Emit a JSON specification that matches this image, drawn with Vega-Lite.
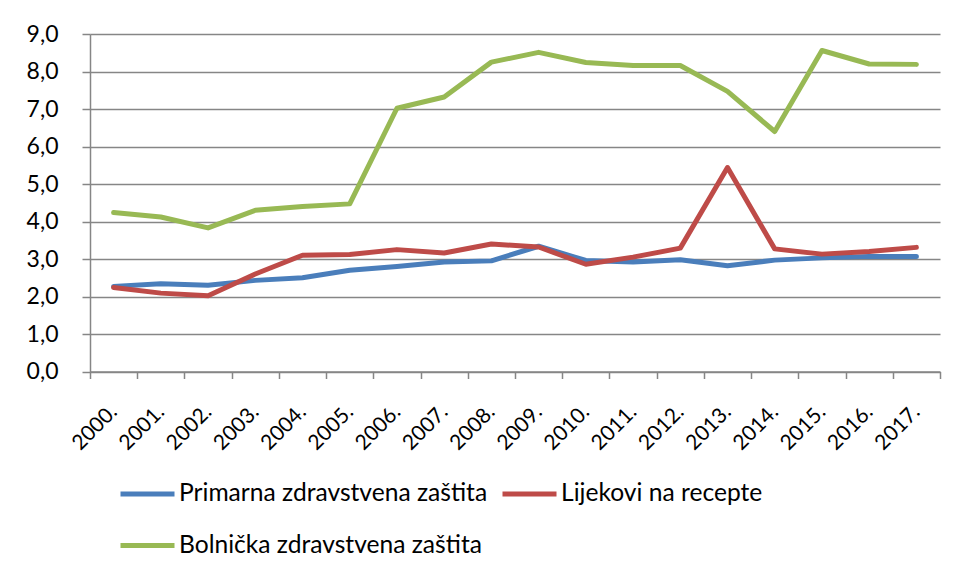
{
  "$schema": "https://vega.github.io/schema/vega-lite/v6.json",
  "width": 850,
  "height": 337.5,
  "autosize": {"type": "none"},
  "padding": {"left": 90, "top": 34, "right": 17, "bottom": 205},
  "background": "white",
  "config": {
    "view": {"stroke": null},
    "font": "Lato"
  },
  "data": {
    "values": [
      {"year": "2000.", "series": "Primarna zdravstvena zaštita", "value": 2.27},
      {"year": "2001.", "series": "Primarna zdravstvena zaštita", "value": 2.34},
      {"year": "2002.", "series": "Primarna zdravstvena zaštita", "value": 2.3},
      {"year": "2003.", "series": "Primarna zdravstvena zaštita", "value": 2.43},
      {"year": "2004.", "series": "Primarna zdravstvena zaštita", "value": 2.5},
      {"year": "2005.", "series": "Primarna zdravstvena zaštita", "value": 2.7},
      {"year": "2006.", "series": "Primarna zdravstvena zaštita", "value": 2.8},
      {"year": "2007.", "series": "Primarna zdravstvena zaštita", "value": 2.92},
      {"year": "2008.", "series": "Primarna zdravstvena zaštita", "value": 2.95},
      {"year": "2009.", "series": "Primarna zdravstvena zaštita", "value": 3.34},
      {"year": "2010.", "series": "Primarna zdravstvena zaštita", "value": 2.96},
      {"year": "2011.", "series": "Primarna zdravstvena zaštita", "value": 2.92},
      {"year": "2012.", "series": "Primarna zdravstvena zaštita", "value": 2.98},
      {"year": "2013.", "series": "Primarna zdravstvena zaštita", "value": 2.82},
      {"year": "2014.", "series": "Primarna zdravstvena zaštita", "value": 2.97},
      {"year": "2015.", "series": "Primarna zdravstvena zaštita", "value": 3.03},
      {"year": "2016.", "series": "Primarna zdravstvena zaštita", "value": 3.07},
      {"year": "2017.", "series": "Primarna zdravstvena zaštita", "value": 3.07},
      {"year": "2000.", "series": "Lijekovi na recepte", "value": 2.24},
      {"year": "2001.", "series": "Lijekovi na recepte", "value": 2.09},
      {"year": "2002.", "series": "Lijekovi na recepte", "value": 2.02},
      {"year": "2003.", "series": "Lijekovi na recepte", "value": 2.6},
      {"year": "2004.", "series": "Lijekovi na recepte", "value": 3.1},
      {"year": "2005.", "series": "Lijekovi na recepte", "value": 3.12},
      {"year": "2006.", "series": "Lijekovi na recepte", "value": 3.25},
      {"year": "2007.", "series": "Lijekovi na recepte", "value": 3.16},
      {"year": "2008.", "series": "Lijekovi na recepte", "value": 3.4},
      {"year": "2009.", "series": "Lijekovi na recepte", "value": 3.32},
      {"year": "2010.", "series": "Lijekovi na recepte", "value": 2.86},
      {"year": "2011.", "series": "Lijekovi na recepte", "value": 3.05},
      {"year": "2012.", "series": "Lijekovi na recepte", "value": 3.29},
      {"year": "2013.", "series": "Lijekovi na recepte", "value": 5.44},
      {"year": "2014.", "series": "Lijekovi na recepte", "value": 3.27},
      {"year": "2015.", "series": "Lijekovi na recepte", "value": 3.13},
      {"year": "2016.", "series": "Lijekovi na recepte", "value": 3.2},
      {"year": "2017.", "series": "Lijekovi na recepte", "value": 3.31},
      {"year": "2000.", "series": "Bolnička zdravstvena zaštita", "value": 4.24},
      {"year": "2001.", "series": "Bolnička zdravstvena zaštita", "value": 4.12},
      {"year": "2002.", "series": "Bolnička zdravstvena zaštita", "value": 3.83},
      {"year": "2003.", "series": "Bolnička zdravstvena zaštita", "value": 4.3},
      {"year": "2004.", "series": "Bolnička zdravstvena zaštita", "value": 4.4},
      {"year": "2005.", "series": "Bolnička zdravstvena zaštita", "value": 4.47},
      {"year": "2006.", "series": "Bolnička zdravstvena zaštita", "value": 7.02},
      {"year": "2007.", "series": "Bolnička zdravstvena zaštita", "value": 7.32},
      {"year": "2008.", "series": "Bolnička zdravstvena zaštita", "value": 8.25},
      {"year": "2009.", "series": "Bolnička zdravstvena zaštita", "value": 8.51},
      {"year": "2010.", "series": "Bolnička zdravstvena zaštita", "value": 8.24},
      {"year": "2011.", "series": "Bolnička zdravstvena zaštita", "value": 8.16},
      {"year": "2012.", "series": "Bolnička zdravstvena zaštita", "value": 8.16},
      {"year": "2013.", "series": "Bolnička zdravstvena zaštita", "value": 7.47},
      {"year": "2014.", "series": "Bolnička zdravstvena zaštita", "value": 6.4},
      {"year": "2015.", "series": "Bolnička zdravstvena zaštita", "value": 8.56},
      {"year": "2016.", "series": "Bolnička zdravstvena zaštita", "value": 8.2},
      {"year": "2017.", "series": "Bolnička zdravstvena zaštita", "value": 8.19}
    ]
  },
  "mark": {"type": "line", "strokeWidth": 5, "strokeJoin": "round", "strokeCap": "round"},
  "encoding": {
    "x": {
      "field": "year",
      "type": "ordinal",
      "sort": null,
      "scale": {"type": "band", "paddingInner": 0, "paddingOuter": 0},
      "axis": {
        "title": null,
        "labelAngle": -45,
        "labelAlign": "right",
        "labelBaseline": "middle",
        "labelFontSize": 21,
        "labelColor": "black",
        "labelPadding": 30,
        "tickBand": "extent",
        "tickSize": 7,
        "tickColor": "#868686",
        "tickWidth": 1.5,
        "domainColor": "#868686",
        "domainWidth": 1.5,
        "grid": false
      }
    },
    "y": {
      "field": "value",
      "type": "quantitative",
      "scale": {"domain": [0, 9], "nice": false},
      "axis": {
        "title": null,
        "values": [0, 1, 2, 3, 4, 5, 6, 7, 8, 9],
        "labelExpr": "replace(format(datum.value, '.1f'), '.', ',')",
        "labelFontSize": 23,
        "labelColor": "black",
        "labelPadding": 24,
        "tickSize": 8,
        "tickColor": "#868686",
        "tickWidth": 1.5,
        "domainColor": "#868686",
        "domainWidth": 1.5,
        "grid": true,
        "gridColor": "#868686",
        "gridWidth": 1.5
      }
    },
    "color": {
      "field": "series",
      "type": "nominal",
      "scale": {
        "domain": ["Primarna zdravstvena zaštita", "Lijekovi na recepte", "Bolnička zdravstvena zaštita"],
        "range": ["#4A7EBB", "#BE4B48", "#98B954"]
      },
      "legend": {
        "title": null,
        "orient": "none",
        "legendX": 28,
        "legendY": 430,
        "direction": "horizontal",
        "columns": 2,
        "padding": 0,
        "columnPadding": 4,
        "rowPadding": 10,
        "symbolType": "stroke",
        "symbolSize": 2916,
        "symbolStrokeWidth": 5,
        "labelFontSize": 24.6,
        "labelColor": "black",
        "labelOffset": 2,
        "labelLimit": 0
      }
    }
  }
}
